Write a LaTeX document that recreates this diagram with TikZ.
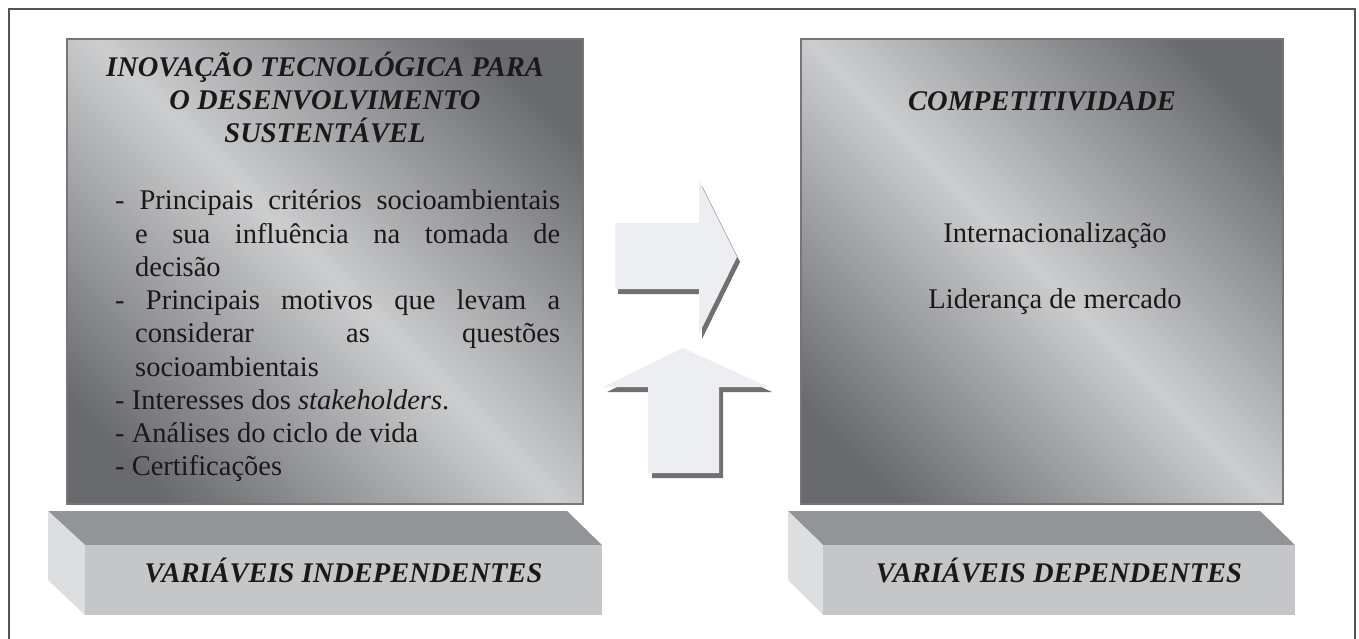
\documentclass[tikz,border=0pt]{standalone}
\usepackage{fontspec}
\setmainfont{Liberation Serif}
\definecolor{shdk}{RGB}{104,106,109}
\definecolor{shlt}{RGB}{203,205,207}
\definecolor{framecol}{RGB}{85,85,85}
\definecolor{boxline}{RGB}{118,118,120}
\definecolor{slabtopc}{RGB}{146,149,152}
\definecolor{slabfrontc}{RGB}{196,198,200}
\definecolor{slabsidec}{RGB}{220,222,224}
\definecolor{arrowc}{RGB}{236,238,241}
\definecolor{arrowsh}{RGB}{112,112,112}
\definecolor{txt}{RGB}{25,25,25}
\pgfdeclareverticalshading{boxshade}{100bp}{color(0bp)=(shdk); color(22bp)=(shdk); color(50bp)=(shlt); color(78bp)=(shdk); color(100bp)=(shdk)}
\begin{document}
\begin{tikzpicture}[x=1pt,y=-1pt,
  frame/.style={draw=framecol, line width=1.5pt},
  varbox/.style={shading=boxshade, shading angle=-45, draw=boxline, line width=1.6pt, inner sep=0pt},
  slabtop/.style={fill=slabtopc},
  slabfront/.style={fill=slabfrontc},
  slabside/.style={fill=slabsidec},
  arrowbody/.style={fill=arrowc},
  arrowshadow/.style={fill=arrowsh},
  body/.style={font=\fontsize{28.5}{33}\selectfont, text=txt, inner sep=0pt, anchor=base west},
  bodyc/.style={font=\fontsize{28.5}{33}\selectfont, text=txt, inner sep=0pt, anchor=base},
  title/.style={font=\fontsize{28.5}{33}\selectfont\bfseries\itshape, text=txt, inner sep=0pt, anchor=base}
]
\useasboundingbox (0,0) rectangle (1359,639);
\fill[white] (0,0) rectangle (1359,639);
% outer frame
\draw[frame] (9,645) -- (9,9) -- (1355,9) -- (1355,645);

% boxes
\node[varbox, minimum width=516, minimum height=465] (lbox) at (325,271.5) {};
\node[varbox, minimum width=482, minimum height=465] (rbox) at (1042,271.5) {};

% left slab
\fill[slabtop] (48,511) -- (567,511) -- (602,545) -- (85,545) -- cycle;
\fill[slabside] (48,511) -- (85,545) -- (85,615) -- (48,580) -- cycle;
\fill[slabfront] (85,545) rectangle (602,615);
% right slab
\fill[slabtop] (788,511) -- (1260,511) -- (1295,545) -- (823,545) -- cycle;
\fill[slabside] (788,511) -- (823,545) -- (823,615) -- (788,580) -- cycle;
\fill[slabfront] (823,545) rectangle (1295,615);

\node[title] (lslab) at (343.5,582) {VARIÁVEIS INDEPENDENTES};
\node[title] (rslab) at (1059,582) {VARIÁVEIS DEPENDENTES};

% right arrow
\fill[arrowshadow, shift={(3,5)}] (615,223) -- (699,223) -- (699,181) -- (737,257) -- (699,334) -- (699,289) -- (615,289) -- cycle;
\fill[arrowbody] (615,223) -- (699,223) -- (699,181) -- (737,257) -- (699,334) -- (699,289) -- (615,289) -- cycle;
% up arrow
\fill[arrowshadow, shift={(4,5)}] (683,348) -- (768,387) -- (719,387) -- (719,473) -- (648,473) -- (648,387) -- (603,387) -- cycle;
\fill[arrowbody] (683,348) -- (768,387) -- (719,387) -- (719,473) -- (648,473) -- (648,387) -- (603,387) -- cycle;

% left box texts
\node[title] (t1) at (325,77) {INOVAÇÃO TECNOLÓGICA PARA};
\node[title] (t2) at (325,110) {O DESENVOLVIMENTO};
\node[title] (t3) at (325,143) {SUSTENTÁVEL};

\node[body] (l1) at (115,210) {\makebox[445pt][s]{- Principais critérios socioambientais}};
\node[body] (l2) at (135,243) {\makebox[425pt][s]{e sua influência na tomada de}};
\node[body] (l3) at (135,276) {decisão};
\node[body] (l4) at (115,309) {\makebox[445pt][s]{- Principais motivos que levam a}};
\node[body] (l5) at (135,342) {\makebox[425pt][s]{considerar as questões}};
\node[body] (l6) at (135,376) {socioambientais};
\node[body] (l7) at (115,409) {- Interesses dos \textit{stakeholders}.};
\node[body] (l8) at (115,442) {- Análises do ciclo de vida};
\node[body] (l9) at (115,475) {- Certificações};

% right box texts
\node[title] (r1) at (1042,111) {COMPETITIVIDADE};
\node[bodyc] (r2) at (1055,242) {Internacionalização};
\node[bodyc] (r3) at (1055,308) {Liderança de mercado};
\end{tikzpicture}
\end{document}
